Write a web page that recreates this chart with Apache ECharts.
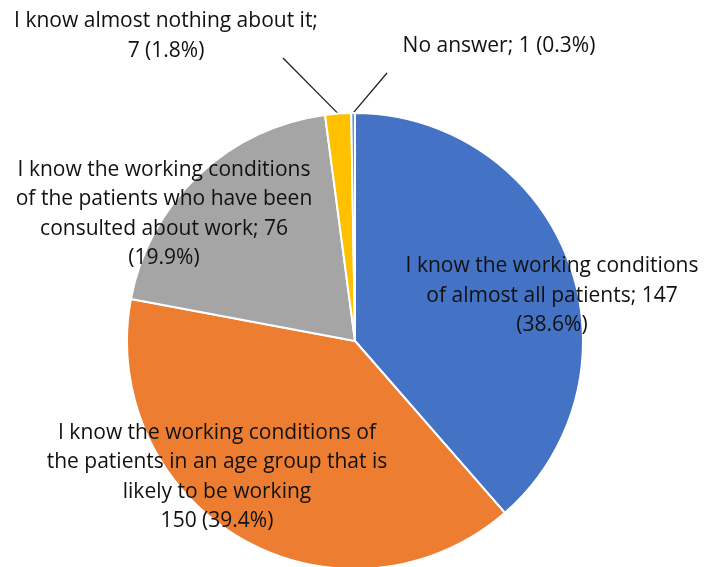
<!DOCTYPE html>
<html><head><meta charset="utf-8">
<script src="https://cdn.jsdelivr.net/npm/echarts@6/dist/echarts.min.js"></script>
<style>html,body{margin:0;padding:0;background:#fff}#c{width:714px;height:567px}</style>
</head><body><div id="c"></div>
<script>
const categories = [
  "I know the working conditions\nof almost all patients",
  "I know the working conditions of\nthe patients in an age group that is\nlikely to be working",
  "I know the working conditions\nof the patients who have been\nconsulted about work",
  "I know almost nothing about it",
  "No answer"
];
const values = [147, 150, 76, 7, 1];
const colors = ["#4472C4", "#ED7D31", "#A5A5A5", "#FFC000", "#5B9BD5"];
const labelTemplates = ["{b}; {c}\n({d}%)", "{b}\n{c} ({d}%)", "{b}; {c}\n({d}%)", "{b};\n{c} ({d}%)", "{b}; {c} ({d}%)"];
const labelCenters = [[552, 296], [217, 477], [164, 214], [166, 36], [499, 46]];
const leaderEnds = [null, null, null, [283, 58], [387, 73]];

const chart = echarts.init(document.getElementById('c'));
chart.setOption({
  animation: false,
  series: [{
    type: 'pie',
    center: [355, 341],
    radius: 228,
    startAngle: 90,
    clockwise: true,
    percentPrecision: 1,
    avoidLabelOverlap: false,
    itemStyle: { borderColor: '#fff', borderWidth: 2 },
    label: {
      fontFamily: 'Open Sans', fontSize: 21, lineHeight: 29.5, color: '#111', align: 'center'
    },
    labelLine: { show: true, lineStyle: { color: '#222', width: 1.3 }, length: 20, length2: 0, smooth: false },
    labelLayout: function (p) {
      const c = labelCenters[p.dataIndex];
      const out = { x: c[0], y: c[1], align: 'center', verticalAlign: 'middle' };
      const e = leaderEnds[p.dataIndex];
      if (e && p.labelLinePoints) {
        const s = p.labelLinePoints[0];
        const dx = e[0] - s[0], dy = e[1] - s[1];
        const len = Math.sqrt(dx * dx + dy * dy);
        const st = [s[0] - dx / len * 7, s[1] - dy / len * 7];
        out.labelLinePoints = [st, st, e];
      }
      return out;
    },
    data: values.map((v, i) => ({
      name: categories[i], value: v,
      itemStyle: { color: colors[i] },
      label: { position: i < 3 ? 'inside' : 'outside', formatter: labelTemplates[i] },
      labelLine: { show: i >= 3 }
    }))
  }]
});
</script></body></html>
